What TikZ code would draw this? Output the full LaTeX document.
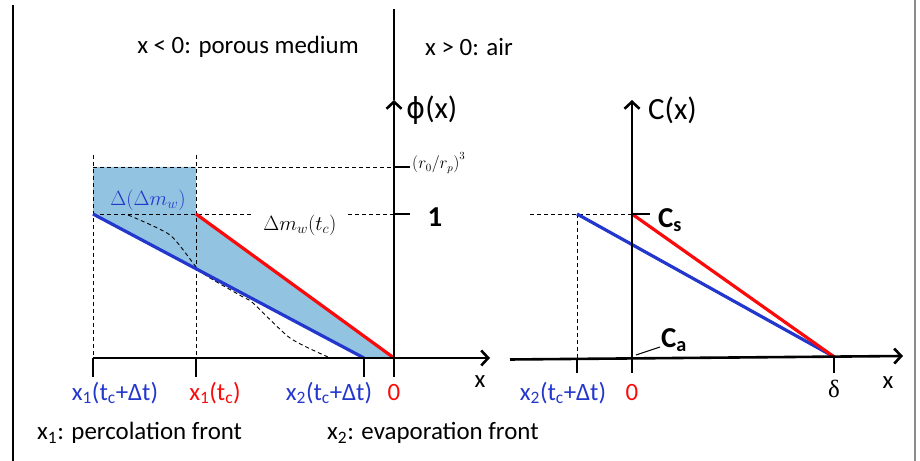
\documentclass[tikz,border=0pt]{standalone}
\usepackage{fontspec}
\setmainfont{Carlito}
\newfontfamily\djv{DejaVu Sans}
\newfontfamily\lser{Liberation Serif}
\usetikzlibrary{arrows.meta}
\definecolor{myblue}{RGB}{35,55,205}
\definecolor{myred}{RGB}{250,10,10}
\definecolor{fillblue}{RGB}{146,195,225}
\newcommand\sbx[1]{\textsubscript{#1}}
\begin{document}
\begin{tikzpicture}[x=1bp,y=1bp,
  axisline/.style={line width=2.6bp},
  axarrow/.style={line width=2.6bp,-{Straight Barb[length=7bp,width=15bp]}},
  curveline/.style={line width=3.2bp},
  guide/.style={dash pattern=on 4bp off 3bp, line width=0.9bp},
  lbl/.style={font=\fontsize{25}{30}\selectfont, inner sep=0pt},
  biglbl/.style={font=\fontsize{31}{36}\selectfont, inner sep=0pt},
  boldlbl/.style={font=\fontsize{29}{34}\selectfont\bfseries, inner sep=0pt},
  mathlbl/.style={font=\fontsize{20}{24}\selectfont, inner sep=0pt},
  smallmath/.style={font=\fontsize{16}{19}\selectfont, inner sep=0pt}]
\useasboundingbox (0,0) rectangle (920,461);
% frame
\coordinate (fl1) at (13,456); \coordinate (fl2) at (13,0);
\coordinate (fr1) at (915,461); \coordinate (fr2) at (915,0);
\draw[line width=1.4bp] (fl1) -- (fl2);
\draw[line width=1.4bp, black!45] (fr1) -- (fr2);
% ---------- left panel coordinates
\coordinate (O1) at (394,103);
\coordinate (AxL) at (93,103);
\coordinate (AxR) at (490,103);
\coordinate (PhB) at (394,84);
\coordinate (PhT) at (394,361);
\coordinate (SepT) at (394,452);
\coordinate (P1) at (93,294); \coordinate (P2) at (196,294);
\coordinate (P3) at (196,247); \coordinate (P4) at (364,103);
\coordinate (P5) at (93,247);
\coordinate (T1) at (93,84); \coordinate (T2) at (196,84); \coordinate (T3) at (364,84);
\coordinate (B2) at (196,103);
\coordinate (V1) at (93,306); \coordinate (V2) at (196,306);
\coordinate (H1) at (394,294); \coordinate (H2) at (394,247);
\coordinate (H1e) at (410,294); \coordinate (H2e) at (410,247);
\coordinate (G1) at (252,247); \coordinate (G2) at (348,247);
% fill
\fill[fillblue] (P1) -- (P2) -- (P3) -- (O1) -- (P4) -- (P5) -- cycle;
% guides
\draw[guide] (V1) -- (AxL);
\draw[guide] (V2) -- (B2);
\draw[guide] (P1) -- (H1);
\draw[guide] (P5) -- (G1);
\draw[guide] (G2) -- (H2);
\draw[guide] plot[smooth, tension=0.4] coordinates {(128,246) (170,226) (197,193) (210,183) (243,164) (253,158) (290,123) (328,104)};
% curves
\draw[curveline, myred] (P3) -- (O1);
\draw[curveline, myblue] (P5) -- (P4);
% axes
\draw[line width=1.1bp] (SepT) -- (PhT);
\draw[axarrow] (PhB) -- (PhT);
\draw[axarrow] (AxL) -- (AxR);
\draw[axisline] (AxL) -- (T1);
\draw[axisline] (B2) -- (T2);
\draw[axisline] (P4) -- (T3);
\draw[axisline] (H1) -- (H1e);
\draw[axisline] (H2) -- (H2e);
% ---------- right panel coordinates
\coordinate (RxL) at (510,101.5);
\coordinate (RxR) at (903,105);
\coordinate (CB) at (632,88);
\coordinate (CT) at (632,361);
\coordinate (Cs) at (632,247); \coordinate (Cse) at (650,247);
\coordinate (Dh) at (530,247);
\coordinate (Bb) at (577,247);
\coordinate (Bbb) at (577,102.6);
\coordinate (Bt) at (577,88);
\coordinate (Dl) at (834,104.2);
\coordinate (Dt) at (834,88);
\coordinate (Ca1) at (636,106);
\coordinate (Ca2) at (660,114);
\draw[guide] (Dh) -- (Cs);
\draw[guide] (Bb) -- (Bbb);
\draw[curveline, myblue] (Bb) -- (Dl);
\draw[curveline, myred] (Cs) -- (Dl);
\draw[axarrow] (RxL) -- (RxR);
\draw[axarrow] (CB) -- (CT);
\draw[axisline] (Cs) -- (Cse);
\draw[axisline] (Bbb) -- (Bt);
\draw[axisline] (Dl) -- (Dt);
\draw[line width=1bp] (Ca1) -- (Ca2);
% ---------- labels
\node[lbl] (porous) at (248,414) {x < 0: porous medium};
\node[lbl, anchor=west] (air) at (425,414) {x > 0: air};
\node[biglbl, anchor=west] (phi) at (406,351) {{\djv\fontsize{29}{34}\selectfont ϕ}(x)};
\node[biglbl, anchor=west] (cx) at (648,351) {C(x)};
\node[smallmath, anchor=west] (r0rp) at (412,298) {$\left(r_0/r_p\right)^3$};
\node[boldlbl] (one) at (435,244) {1};
\node[boldlbl, anchor=west] (csl) at (658,241) {C\sbx{s}};
\node[boldlbl, anchor=west] (cal) at (661,121) {C\sbx{a}};
\node[mathlbl] (dmw) at (300,236) {$\Delta m_w(t_c)$};
\node[mathlbl, text=myblue] (ddmw) at (148,261) {$\Delta(\Delta m_w)$};
\node[lbl] (xl) at (480,79) {x};
\node[lbl] (xr) at (888,78) {x};
\node[lbl, text=myblue] (t1) at (115,68) {x\sbx{1}(t\sbx{c}+Δt)};
\node[lbl, text=myred] (t2) at (215,68) {x\sbx{1}(t\sbx{c})};
\node[lbl, text=myblue] (t3) at (329,68) {x\sbx{2}(t\sbx{c}+Δt)};
\node[lbl, text=myred] (t4) at (394,68) {0};
\node[lbl, text=myblue] (t5) at (563,68) {x\sbx{2}(t\sbx{c}+Δt)};
\node[lbl, text=myred] (t6) at (632,68) {0};
\node[lbl] (t7) at (834,72) {\lser δ};
\node[lbl, anchor=west] (perc) at (37,28) {x\sbx{1}: percolation front};
\node[lbl, anchor=west] (evap) at (327,28) {x\sbx{2}: evaporation front};
\end{tikzpicture}
\end{document}
